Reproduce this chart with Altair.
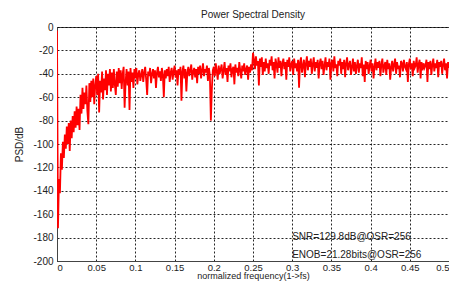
import altair as alt
import pandas as pd

# frequency resolution of the trace (normalized frequency, 0 .. 0.5)
freq_step = 0.00125

psd_low = [
    -3, -172, -130, -142, -108, -122, -98, -112,
    -92, -104, -85, -100, -82, -106, -80, -95,
    -76, -90, -72, -86, -68, -84, -70, -88,
    -58, -74, -52, -70, -56, -66, -50, -72,
    -83, -48, -64, -46, -60, -44, -66, -50,
    -42, -58, -40, -73, -46, -56, -38, -62,
    -44, -54, -37, -58, -40, -50, -36, -55,
    -39, -52, -36, -49, -58, -38, -51, -35,
    -48, -37, -53, -40, -34, -69, -47, -36,
    -50, -38, -71, -35, -47, -39, -52, -36,
]
psd_mid = [
    -44, -35, -49, -40, -37, -46, -41, -36,
    -47, -39, -34, -45, -58, -38, -42, -35,
    -48, -40, -36, -44, -37, -52, -39, -34,
    -43, -38, -46, -35, -41, -60, -37, -44,
    -36, -42, -34, -47, -39, -35, -45, -38,
    -33, -43, -37, -50, -36, -41, -34, -63,
    -38, -33, -44, -36, -55, -39, -34, -42,
    -37, -32, -45, -38, -35, -43, -36, -48,
    -34, -40, -33, -44, -37, -31, -42, -36,
    -39, -33, -46, -35, -41, -80, -53, -37,
    -34, -42, -31, -38, -45, -33, -40, -36,
    -32, -44, -37, -30, -41, -35, -47, -33,
    -38, -31, -43, -36, -34, -49, -32, -39,
    -35, -42, -30, -37, -44, -33, -38, -31,
    -41, -36, -33, -45, -34, -39, -32, -37,
]
psd_high = [
    -22, -28, -36, -25, -33, -29, -50, -27,
    -34, -26, -41, -30, -38, -27, -35, -31,
    -40, -28, -33, -25, -37, -30, -44, -27,
    -32, -39, -26, -35, -29, -42, -31, -27,
    -36, -30, -45, -28, -34, -26, -38, -32,
    -29, -41, -27, -35, -31, -38, -28, -52,
    -30, -26, -39, -33, -28, -43, -31, -25,
    -37, -29, -34, -27, -40, -32, -26, -38,
    -30, -35, -28, -44, -31, -27, -36, -29,
    -41, -33, -26, -37, -30, -34, -27, -45,
    -31, -28, -38, -25, -35, -32, -42, -29,
    -33, -27, -40, -30, -36, -28, -43, -31,
    -26, -37, -32, -29, -41, -34, -27, -38,
    -30, -40, -33, -28, -39, -31, -35, -26,
    -42, -32, -47, -29, -36, -30, -40, -33,
    -28, -38, -31, -44, -34, -27, -37, -30,
    -35, -29, -42, -32, -27, -39, -33, -30,
    -41, -28, -36, -31, -45, -34, -29, -38,
    -32, -27, -40, -30, -36, -33, -43, -29,
    -31, -38, -28, -34, -36, -30, -47, -32,
    -27, -36, -31, -42, -29, -35, -33, -26,
    -39, -32, -28, -44, -30, -37, -31, -35,
    -33, -28, -47, -30, -36, -29, -41, -32,
    -27, -38, -31, -35, -28, -43, -30, -34,
    -29, -40, -32, -27, -37, -31, -44, -30, -35,
]

psd_values = psd_low + psd_mid + psd_high
freqs = [round(i * freq_step, 5) for i in range(len(psd_values))]

note_texts = ["SNR=129.8dB@OSR=256", "ENOB=21.28bits@OSR=256"]
note_x = [0.3, 0.3]
note_y = [-179.5, -195]

x_ticks = [round(0.05 * i, 2) for i in range(11)]
y_ticks = [-200, -180, -160, -140, -120, -100, -80, -60, -40, -20, 0]

df = pd.DataFrame({"f": freqs, "psd": psd_values})
notes = pd.DataFrame({"f": note_x, "psd": note_y, "t": note_texts})

FONT = "Liberation Sans"

x_axis = alt.Axis(
    values=x_ticks,
    format="~g",
    title="normalized frequency(1->fs)",
    ticks=False,
    labelPadding=1,
    labelFontSize=9.5,
    titlePadding=0,
    titleFontSize=9,
    labelOverlap=False,
    grid=True,
)
y_axis = alt.Axis(
    values=y_ticks,
    labelExpr="'' + datum.value",
    title="PSD/dB",
    ticks=False,
    labelPadding=4,
    titlePadding=8,
    labelOverlap=False,
    grid=True,
)
xs = alt.Scale(domain=[0, 0.5], nice=False)
ys = alt.Scale(domain=[-200, 0], nice=False)

line = alt.Chart(df).mark_line(color="#ff0000", strokeWidth=1.8, clip=True).encode(
    x=alt.X("f:Q", scale=xs, axis=x_axis),
    y=alt.Y("psd:Q", scale=ys, axis=y_axis),
)

text = alt.Chart(notes).mark_text(
    align="left", baseline="middle", font=FONT, fontSize=10, color="#222"
).encode(
    x=alt.X("f:Q", scale=xs, axis=x_axis),
    y=alt.Y("psd:Q", scale=ys, axis=y_axis),
    text="t:N",
)

chart = (
    alt.layer(line, text)
    .properties(
        width=392,
        height=234,
        title=alt.TitleParams(
            "Power Spectral Density", font=FONT, fontSize=10, fontWeight="normal",
            color="#222", offset=2,
        ),
        autosize=alt.AutoSizeParams(type="none"),
        padding={"left": 49, "top": 19, "right": 0, "bottom": 22},
    )
    .configure_view(stroke="#444", strokeWidth=1)
    .configure_axis(
        labelFont=FONT,
        labelFontSize=10,
        labelColor="#222",
        titleFont=FONT,
        titleFontSize=10,
        titleFontWeight="normal",
        titleColor="#222",
        gridColor="#000",
        gridDash=[2, 2],
        gridOpacity=0.85,
        gridWidth=1,
        domainColor="#444",
    )
)

chart.save("out.html", embed_options={"renderer": "svg", "actions": False})
